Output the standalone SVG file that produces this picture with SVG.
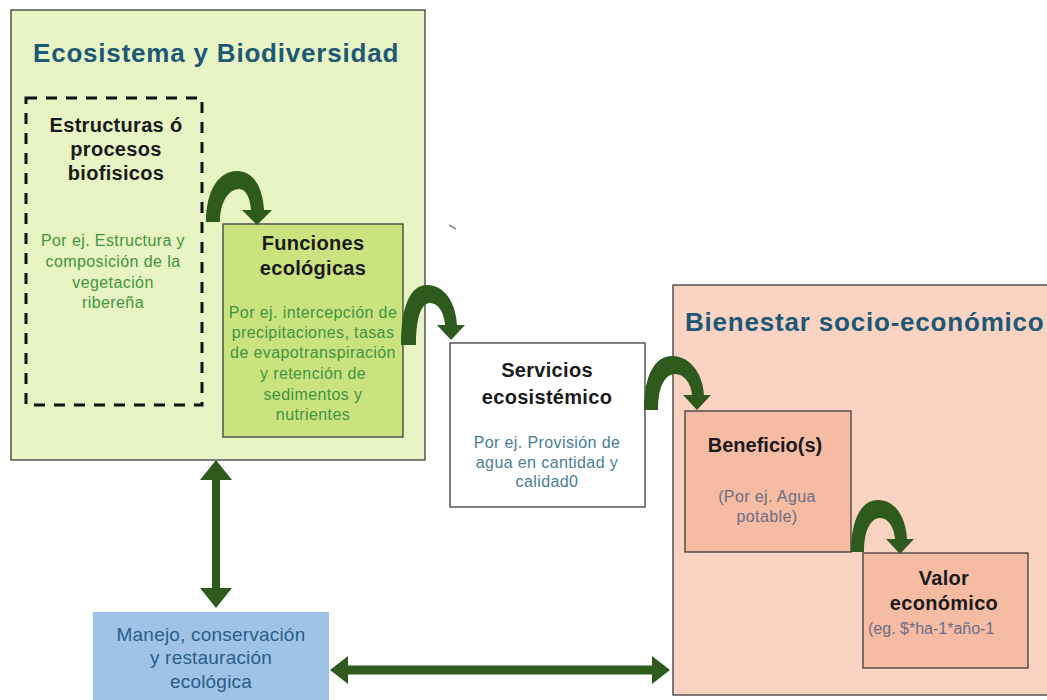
<svg xmlns="http://www.w3.org/2000/svg" width="1047" height="700" viewBox="0 0 1047 700">
<style>
  .box { stroke: #3c3c3c; stroke-width: 1.3; }
  .title { font-family: "Liberation Sans", Arial, sans-serif; font-weight: bold; font-size: 26px; fill: #1d5876; letter-spacing: 0.8px; }
  .head { font-family: "Liberation Sans", Arial, sans-serif; font-weight: bold; font-size: 20px; fill: #1a1a1a; text-anchor: middle; letter-spacing: 0.3px; }
  .sub { font-family: "Liberation Sans", Arial, sans-serif; font-size: 16px; text-anchor: middle; letter-spacing: 0.4px; }
  .green { fill: #3f9440; }
  .blue { fill: #4a7d98; }
  .grey { fill: #6a6e86; }
  .man { font-family: "Liberation Sans", Arial, sans-serif; font-size: 19px; fill: #2b5d8a; text-anchor: middle; letter-spacing: 0.2px; }
  .arrow { fill: #2e5a1e; }
</style>
<rect width="1047" height="700" fill="#ffffff"/>

<g id="ecosistema">
  <rect class="box" x="11" y="10" width="414" height="450" fill="#e9f4c4"/>
  <text class="title" x="33" y="62">Ecosistema y Biodiversidad</text>
</g>

<g id="estructuras">
  <rect x="26" y="98" width="176" height="307" fill="none" stroke="#111" stroke-width="3" stroke-dasharray="11 9"/>
  <text class="head" x="116" y="132">Estructuras ó</text>
  <text class="head" x="116" y="156">procesos</text>
  <text class="head" x="116" y="180">biofisicos</text>
  <text class="sub green" x="113" y="246">Por ej. Estructura y</text>
  <text class="sub green" x="113" y="267">composición de la</text>
  <text class="sub green" x="113" y="288">vegetación</text>
  <text class="sub green" x="113" y="308">ribereña</text>
</g>

<g id="funciones">
  <rect class="box" x="223" y="224" width="180" height="213" fill="#cbe37f"/>
  <text class="head" x="313" y="250">Funciones</text>
  <text class="head" x="313" y="275">ecológicas</text>
  <text class="sub green" x="313" y="318">Por ej. intercepción de</text>
  <text class="sub green" x="313" y="338">precipitaciones, tasas</text>
  <text class="sub green" x="313" y="358">de evapotranspiración</text>
  <text class="sub green" x="313" y="379">y retención de</text>
  <text class="sub green" x="313" y="400">sedimentos y</text>
  <text class="sub green" x="313" y="420">nutrientes</text>
</g>

<g id="servicios">
  <rect class="box" x="450" y="343" width="195" height="164" fill="#ffffff"/>
  <text class="head" x="547" y="377">Servicios</text>
  <text class="head" x="547" y="404">ecosistémico</text>
  <text class="sub blue" x="547" y="448">Por ej. Provisión de</text>
  <text class="sub blue" x="547" y="468">agua en cantidad y</text>
  <text class="sub blue" x="547" y="487">calidad0</text>
</g>

<g id="bienestar">
  <rect class="box" x="673" y="285" width="400" height="410" fill="#fbd3c3"/>
  <text class="title" x="685" y="331">Bienestar socio-económico</text>
</g>

<g id="beneficio">
  <rect class="box" x="685" y="411" width="166" height="141" fill="#f6bba3"/>
  <text class="head" x="765" y="452" style="letter-spacing:0">Beneficio(s)</text>
  <text class="sub grey" x="767" y="502">(Por ej. Agua</text>
  <text class="sub grey" x="767" y="522">potable)</text>
</g>

<g id="valor">
  <rect class="box" x="863" y="553" width="165" height="115" fill="#f6bba3"/>
  <text class="head" x="944" y="585">Valor</text>
  <text class="head" x="944" y="610">económico</text>
  <text class="sub grey" x="868" y="634" style="text-anchor:start;letter-spacing:0">(eg. $*ha-1*año-1</text>
</g>

<g id="manejo">
  <rect x="93" y="612" width="236" height="100" fill="#9fc3e6"/>
  <text class="man" x="211" y="641">Manejo, conservación</text>
  <text class="man" x="211" y="664">y restauración</text>
  <text class="man" x="211" y="688">ecológica</text>
</g>

<g id="connectors">
  <path class="arrow" d="M206,222 C206,190 219,171 237,171 C255,171 263,190 264,210 L272,210 L257,225 L242,210 L251,210 C250,198 246,189 239,189 C230,189 220,200 220,222 Z"/>
  <path class="arrow" d="M401,345 C401,305 411,285 427,285 C446,285 456,305 457,325 L465,325 L451,340 L437,325 L445,325 C444,312 438,303 430,303 C422,303 416,315 416,345 Z"/>
  <path class="arrow" d="M644,410 C644,375 655,356 672,356 C691,356 703,375 704,395 L711,395 L697,410 L683,395 L692,395 C691,383 684,374 675,374 C666,374 658,385 658,410 Z"/>
  <path class="arrow" d="M851,552 C851,520 861,500 878,500 C897,500 906,520 907,539 L914,539 L900,554 L886,539 L895,539 C894,527 888,518 880,518 C871,518 864,530 864,552 Z"/>
  <polygon class="arrow" points="216,460 232,480 220,480 220,588 232,588 216,608 200,588 212,588 212,480 200,480"/>
  <polygon class="arrow" points="330,670 348,656 348,665.5 652,665.5 652,656 670,670 652,684 652,674.5 348,674.5 348,684"/>
</g>

<line x1="449" y1="225" x2="456" y2="229" stroke="#8a8a8a" stroke-width="1.5"/>
</svg>
